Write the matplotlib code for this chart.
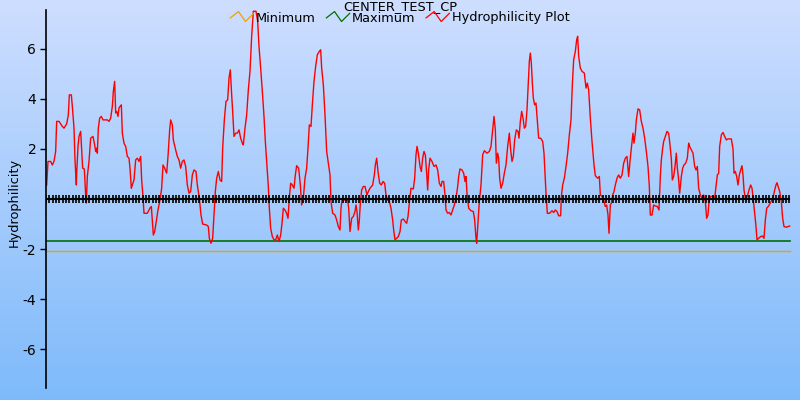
import numpy as np
import matplotlib
matplotlib.use("Agg")
from matplotlib import pyplot as plt
from matplotlib.lines import Line2D
from matplotlib.legend_handler import HandlerBase

# residue position / hydrophilicity values
pos = [0.2, 0.6, 1.4, 1.9, 2.4, 2.9, 3.2, 3.9, 4.9, 5.4, 6.2, 6.7, 7.0, 7.6, 7.9, 8.4, 8.7, 9.1, 9.2, 9.6,
       9.9, 10.4, 10.6, 11.0, 11.5, 11.9, 12.1, 12.4, 12.9, 13.4, 14.1, 14.6, 14.9, 15.2, 15.4, 15.7, 16.1, 16.6, 17.1, 18.4,
       18.9, 19.4, 19.9, 20.2, 20.6, 20.9, 21.2, 21.6, 21.9, 22.6, 22.9, 23.4, 23.9, 24.4, 24.9, 25.2, 25.6, 25.9, 26.4, 26.9,
       27.4, 27.9, 28.4, 28.7, 29.1, 29.4, 30.4, 31.2, 31.6, 31.9, 32.2, 32.6, 33.0, 33.6, 34.2, 34.7, 35.1, 35.6, 36.2, 36.6,
       37.1, 37.4, 37.9, 38.2, 38.9, 39.4, 39.9, 40.4, 40.9, 41.4, 41.9, 42.4, 42.9, 43.4, 43.9, 44.4,
       45.0, 45.4, 46.0, 46.5, 47.0, 48.2, 48.7, 49.0, 49.5, 50.0, 50.4, 50.8, 51.2, 51.7, 52.2, 52.7, 53.0, 53.5, 54.0, 54.5,
       54.9, 55.3, 55.7, 56.0, 56.4, 56.9, 57.4, 57.9, 58.4, 58.9, 59.2, 59.7, 60.2, 60.7, 61.2, 61.7, 62.2, 63.0, 63.5, 63.9,
       64.4, 64.9, 65.4, 65.8, 66.2, 66.7, 67.0, 67.4, 67.9, 68.4, 68.9, 69.4, 69.9, 70.4, 70.8, 71.2, 71.7, 72.2, 72.6, 73.0,
       73.4, 73.9, 74.4, 74.8, 75.2, 75.8, 76.3, 76.7, 77.2, 77.7, 78.2, 78.6, 79.0, 79.5, 79.9, 80.4, 80.9, 81.4, 82.0, 82.4,
       82.7, 83.2, 83.7, 84.2, 84.7, 85.2, 85.5, 86.0, 86.7, 87.2, 87.7, 88.2,
       88.5, 88.8, 89.5, 90.5, 90.8, 91.2, 91.7, 92.2, 92.7, 93.0, 93.3, 93.7, 94.0, 94.3, 94.7, 95.2, 95.7, 96.3, 96.7, 97.2,
       98.0, 98.5, 98.8, 99.2, 99.6, 100.1, 100.6, 101.1, 101.6, 102.0, 102.5, 103.0, 103.5, 104.0, 104.3, 104.7, 105.2, 105.7, 106.2, 106.6,
       107.2, 107.7, 108.2, 108.6, 109.1, 109.5, 110.2, 110.6, 111.0, 111.3, 111.7, 112.2, 112.6, 113.0, 113.4, 113.8, 114.2, 114.5, 114.8, 115.2,
       115.8, 116.4, 117.0, 117.5, 118.0, 118.5, 118.8, 119.3, 119.7, 120.0, 120.5, 121.0, 121.5, 122.0, 122.5, 123.0, 123.5, 123.8, 124.2, 124.8,
       125.3, 125.7, 126.0, 126.3, 126.8, 127.5, 128.2, 128.6, 129.0, 129.2, 129.6, 130.0, 130.5, 131.0, 131.5,
       132.3, 133.0, 133.5, 134.0, 134.4, 134.8, 135.1, 135.5, 135.8, 136.1, 136.5, 137.0, 137.5, 138.0, 138.5, 139.0, 139.4, 139.8, 140.2, 140.6,
       141.1, 141.6, 141.9, 142.3, 142.7, 143.1, 143.5, 143.9, 144.3, 144.6, 145.0, 145.3, 145.6, 145.9, 146.2, 146.6, 147.0, 147.4, 147.8, 148.4,
       149.0, 149.4, 149.7, 150.0, 150.4, 151.1, 151.8, 152.3, 152.8, 153.3, 153.8, 154.4, 154.6, 155.0, 155.5, 156.0, 156.5, 157.0, 157.5, 157.9,
       158.3, 158.8, 159.2, 159.5, 159.8, 160.3, 160.8, 161.5, 162.0, 162.4, 162.8, 163.3, 163.8, 164.4, 164.8, 165.5, 166.0, 166.3, 166.8, 167.3,
       167.8, 168.2, 168.6, 168.9, 169.3, 169.6, 170.0, 170.4, 170.8, 171.3, 171.8, 172.3, 172.8, 173.3, 173.8, 174.3, 174.8, 175.2, 175.6,
       176.1, 176.4, 176.8, 177.1, 177.6, 178.1, 178.6, 179.1, 179.6, 180.1, 180.6, 181.0, 181.3, 181.8, 182.3, 182.8, 183.4, 183.9, 184.3, 184.6,
       185.0, 185.3, 185.8, 186.3, 186.8, 187.2, 187.6, 187.9, 188.3, 188.7, 189.1, 189.4, 189.7, 190.1, 190.6, 191.0, 191.4, 191.9, 192.4, 192.8,
       193.1, 193.6, 194.1, 194.6, 195.0, 195.4, 195.8, 196.3, 196.8, 197.3, 197.8, 198.2, 198.6, 198.9, 199.4, 200.1, 200.6, 201.0, 201.4, 201.8,
       202.1, 202.6, 203.1, 203.6, 204.1, 204.6, 205.6, 206.1, 206.4, 206.8, 207.2, 207.6, 208.0, 208.4, 208.8, 209.1, 209.4, 209.8, 210.4, 210.9,
       211.4, 211.8, 212.2, 212.6, 213.0, 213.3, 213.8, 214.4, 215.0, 215.4, 215.8, 216.2, 216.8, 217.3, 217.8, 218.2, 218.6, 219.0, 219.3, 219.7,
       220.1, 220.6, 221.0, 221.4, 222.1, 222.6, 223.1]

hydro = [0.56, 1.5, 1.5, 1.36, 1.5, 1.9, 3.1, 3.1, 2.9, 2.83, 3.0, 3.36, 4.16, 4.16, 3.7, 2.83, 1.56, 0.56, 1.0, 2.1,
         2.5, 2.7, 2.2, 1.23, 1.2, 0.16, -0.16, 0.9, 1.5, 2.43, 2.5, 2.16, 1.9, 2.03, 1.83, 2.83, 3.23, 3.3, 3.16, 3.16,
         3.1, 3.23, 3.7, 4.3, 4.7, 3.44, 3.5, 3.3, 3.64, 3.76, 2.63, 2.23, 2.1, 1.7, 1.63, 1.23, 0.43, 0.56, 0.76, 1.56,
         1.63, 1.5, 1.7, 0.76, 0.1, -0.57, -0.57, -0.36, -0.3, -0.84, -1.44, -1.3, -0.97, -0.44, -0.04, 0.43, 1.36, 1.23, 1.03, 1.7,
         2.76, 3.16, 2.96, 2.36, 1.96, 1.7, 1.56, 1.23, 1.5, 1.56, 1.3, 0.56, 0.23, 0.3, 0.96, 1.16,
         1.1, 0.56, 0.03, -0.64, -1.0, -1.04, -1.1, -1.57, -1.77, -1.57, -0.64, 0.3, 0.83, 1.1, 0.76, 0.7, 2.03, 3.16, 3.9, 3.96,
         4.83, 5.16, 4.16, 3.5, 2.5, 2.63, 2.63, 2.76, 2.43, 2.23, 2.16, 2.83, 3.36, 4.36, 5.1, 6.5, 7.5, 7.5, 7.1, 6.1,
         5.23, 4.3, 3.3, 2.3, 1.5, 0.5, -0.37, -1.17, -1.5, -1.63, -1.63, -1.44, -1.7, -1.44, -0.97, -0.37, -0.44, -0.57, -0.77, 0.03,
         0.63, 0.56, 0.43, 0.96, 1.33, 1.23, 0.56, -0.24, 0.03, 0.83, 1.23, 2.03, 2.96, 2.9, 3.76, 4.7, 5.3, 5.76, 5.9, 5.96,
         5.23, 4.56, 3.36, 1.9, 1.43, 0.96, -0.1, -0.57, -0.64, -0.84, -1.1, -1.24,
         -0.37, -0.04, -0.04, -0.04, -0.37, -1.3, -0.77, -0.7, -0.5, -0.24, -0.5, -1.24, -0.84, -0.17, 0.36, 0.5, 0.5, 0.16, 0.3, 0.43,
         0.56, 0.96, 1.36, 1.63, 1.1, 0.63, 0.56, 0.7, 0.63, 0.16, -0.04, -0.1, -0.37, -0.84, -1.24, -1.63, -1.57, -1.5, -1.3, -0.84,
         -0.8, -0.9, -0.97, -0.7, -0.04, 0.43, 0.4, 0.83, 1.76, 2.1, 1.83, 1.3, 1.1, 1.63, 1.9, 1.76, 1.03, 0.36, 1.16, 1.63,
         1.5, 1.3, 1.36, 1.16, 0.63, 0.5, 0.7, 0.7, 0.16, -0.44, -0.57, -0.54, -0.64, -0.44, -0.24, 0.03, 0.5, 0.9, 1.2, 1.16,
         1.03, 0.7, 0.9, 0.23, -0.37, -0.47, -0.5, -0.84, -1.57, -1.77, -0.9, -0.1, 0.56, 1.76, 1.93,
         1.83, 1.9, 2.1, 2.76, 3.3, 2.76, 1.43, 1.83, 1.63, 0.83, 0.43, 0.63, 1.03, 1.36, 2.1, 2.63, 1.96, 1.5, 1.7, 2.36,
         2.76, 2.7, 2.43, 3.1, 3.5, 3.23, 2.83, 2.9, 3.56, 4.43, 5.5, 5.83, 5.43, 4.63, 4.03, 3.76, 3.83, 3.1, 2.43, 2.43,
         2.3, 1.83, 1.03, 0.23, -0.57, -0.57, -0.47, -0.54, -0.44, -0.5, -0.67, -0.67, 0.1, 0.56, 0.83, 1.3, 1.83, 2.56, 3.16, 4.56,
         5.56, 5.9, 6.36, 6.5, 5.7, 5.23, 5.1, 5.03, 4.43, 4.63, 4.36, 3.23, 2.3, 1.36, 0.93, 0.83, 0.9, 0.16, 0.1, -0.04,
         -0.3, -0.24, -0.64, -1.37, -0.24, -0.17, 0.16, 0.3, 0.56, 0.83, 0.96, 0.83, 0.96, 1.43, 1.63, 1.7, 0.9, 1.5, 2.03,
         2.63, 2.23, 2.63, 3.16, 3.6, 3.56, 3.1, 2.83, 2.43, 1.9, 1.3, 0.5, -0.64, -0.64, -0.24, -0.28, -0.3, -0.44, 0.9, 1.56,
         2.03, 2.3, 2.5, 2.7, 2.63, 2.16, 1.6, 0.76, 0.9, 1.3, 1.83, 1.23, 0.9, 0.23, 0.9, 1.23, 1.36, 1.43, 1.63, 2.23,
         2.1, 1.96, 1.83, 1.3, 1.16, 1.3, 0.43, 0.16, 0.03, 0.16, -0.1, -0.77, -0.64, -0.1, 0.1, 0.1, 0.03, 0.5, 0.96, 1.03,
         2.1, 2.56, 2.66, 2.5, 2.36, 2.4, 2.4, 2.0, 1.03, 1.1, 0.9, 0.56, 0.96, 1.16, 1.33, 0.96, 0.36, 0.03, 0.1, 0.36,
         0.56, 0.43, -0.04, -0.57, -1.1, -1.63, -1.57, -1.5, -1.48, -1.57, -0.84, -0.37, -0.28, -0.15, -0.04, 0.1, 0.36, 0.56, 0.65, 0.47,
         0.3, -0.1, -0.77, -1.1, -1.13, -1.1, -1.08]

n_residues = 224
minimum = -2.08
maximum = -1.68
yticks = [-6, -4, -2, 2, 4, 6]

fig = plt.figure(figsize=(8, 4), dpi=100)

# gradient background
bg = fig.add_axes([0, 0, 1, 1], zorder=-10)
grad = np.linspace(0, 1, 256).reshape(-1, 1)
top = np.array([206, 222, 255]) / 255.0
bottom = np.array([126, 186, 250]) / 255.0
img = top + (bottom - top) * grad[:, :, None]
bg.imshow(img, aspect="auto", extent=[0, 1, 0, 1])
bg.axis("off")

ax = fig.add_axes([46 / 800, 12 / 400, 1 - 46 / 800, 378 / 400])
ax.patch.set_alpha(0)

ax.plot([pos[0], pos[-1]], [minimum, minimum], color="#f0a000", lw=1, label="Minimum")
ax.plot([pos[0], pos[-1]], [maximum, maximum], color="#007000", lw=1.2, label="Maximum")
ax.plot(pos, hydro, color="red", lw=1, label="Hydrophilicity Plot")
ax.plot(np.arange(n_residues), np.zeros(n_residues), color="black", lw=1.5,
        marker="|", markersize=6, markeredgewidth=1.2)

ax.set_xlim(0, 226.2)
ax.set_ylim(-7.55, 7.55)
ax.set_yticks(yticks)
ax.set_yticklabels([str(t) for t in yticks], fontsize=10)
ax.tick_params(axis="y", length=4, width=1, colors="black", pad=3)
ax.set_xticks([])
for s in ["top", "right", "bottom"]:
    ax.spines[s].set_visible(False)
ax.spines["left"].set_linewidth(1.2)
ax.set_ylabel("Hydrophilicity", fontsize=9.3)
ax.yaxis.set_label_coords(-0.033, 0.49)


class ZigzagHandler(HandlerBase):
    def create_artists(self, legend, orig_handle, xdescent, ydescent, width, height, fontsize, trans):
        xs = np.array([0.0, 0.35, 0.65, 1.0]) * width - xdescent
        ys = np.array([0.4, 1.1, 0.0, 0.9]) * height - ydescent
        l = Line2D(xs, ys, color=orig_handle.get_color(), lw=0.9)
        l.set_transform(trans)
        return [l]


handles, labels = ax.get_legend_handles_labels()
fig.legend(handles, labels, loc="center", bbox_to_anchor=(0.5, 1 - 18 / 400), ncol=3, frameon=False,
           fontsize=9.3, handlelength=1.8, handletextpad=0.2, columnspacing=0.8,
           borderpad=0, handler_map={Line2D: ZigzagHandler()})
fig.text(0.5, 1.0, "CENTER_TEST_CP", ha="center", va="top", fontsize=9.3)

plt.savefig("out.png", dpi=100)
